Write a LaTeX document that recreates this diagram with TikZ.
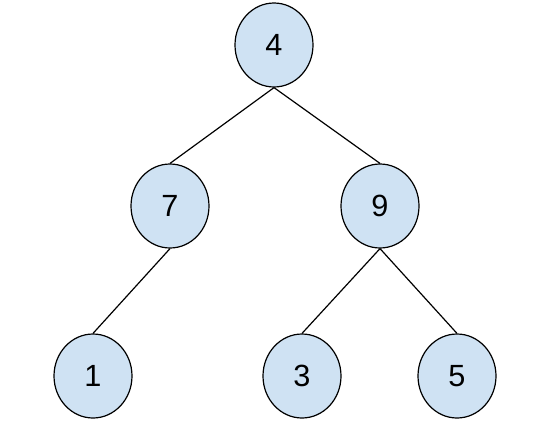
\documentclass[tikz,border=0pt]{standalone}
\usepackage{fontspec}
\setmainfont{Liberation Sans}
\usepackage{xcolor}
\usetikzlibrary{shapes.geometric}
\definecolor{nodeblue}{HTML}{CFE2F3}

\begin{document}
\begin{tikzpicture}[x=0.75pt,y=-0.75pt]
\tikzstyle{every node}+=[inner sep=0pt]
\tikzstyle{vertex}=[draw=black, line width=0.9pt, fill=nodeblue, ellipse,
  minimum width=58.5pt, minimum height=63pt, font=\fontsize{23}{28}\selectfont]
\useasboundingbox (0,0) rectangle (535,429);
\node [vertex] (n4) at (274,45) {4};
\node [vertex] (n7) at (170,206) {7};
\node [vertex] (n9) at (380,206) {9};
\node [vertex] (n1) at (93,376) {1};
\node [vertex] (n3) at (302,376) {3};
\node [vertex] (n5) at (457,376) {5};
\draw [black, line width=0.9pt] (n4.south) -- (n7.north);
\draw [black, line width=0.9pt] (n4.south) -- (n9.north);
\draw [black, line width=0.9pt] (n7.south) -- (n1.north);
\draw [black, line width=0.9pt] (n9.south) -- (n3.north);
\draw [black, line width=0.9pt] (n9.south) -- (n5.north);
\end{tikzpicture}
\end{document}
